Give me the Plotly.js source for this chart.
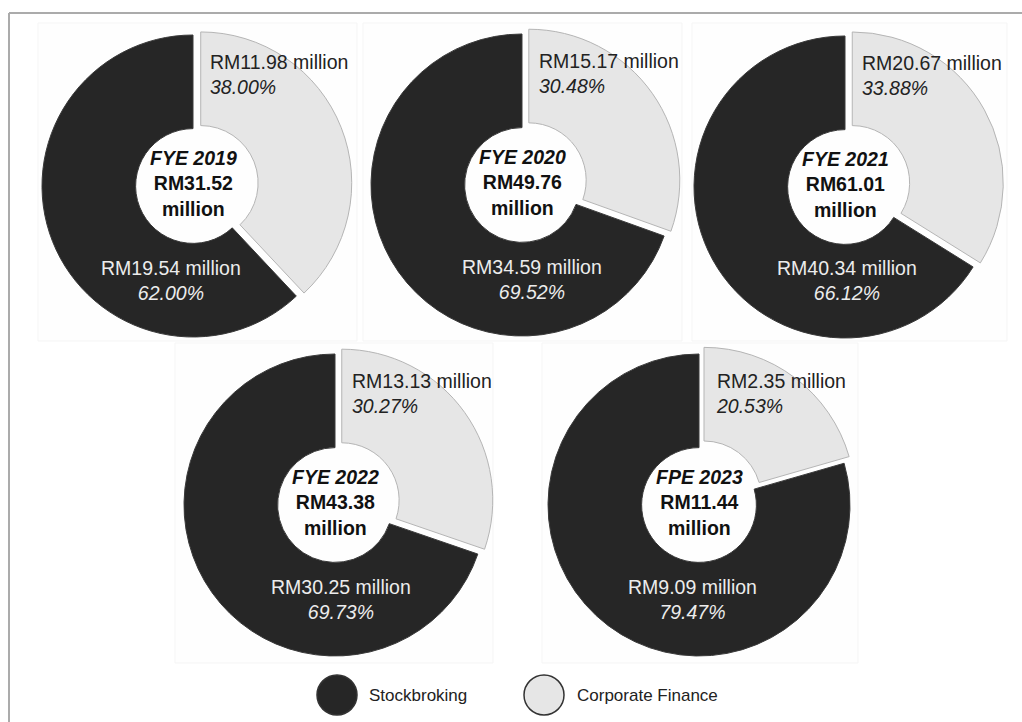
<!DOCTYPE html>
<html>
<head>
<meta charset="utf-8">
<script src="https://cdn.plot.ly/plotly-3.0.1.min.js"></script>
<style>
html,body{margin:0;padding:0;background:#fff;}
#chart{width:1022px;height:722px;}
</style>
</head>
<body>
<div id="chart"></div>
<script>
// ---- data ----
var periods = ['FYE 2019', 'FYE 2020', 'FYE 2021', 'FYE 2022', 'FPE 2023'];
var totals = [31.52, 49.76, 61.01, 43.38, 11.44];
var segments = ['Corporate Finance', 'Stockbroking'];
var corporateFinance = [11.98, 15.17, 20.67, 13.13, 2.35];
var stockbroking = [19.54, 34.59, 40.34, 30.25, 9.09];
var corporatePct = ['38.00', '30.48', '33.88', '30.27', '20.53'];
var stockPct = ['62.00', '69.52', '66.12', '69.73', '79.47'];

// ---- layout (pixels) ----
var W = 1022, H = 722;
var centers = [[193, 186], [522, 185], [845, 187], [335, 505], [699, 505]];
var R = 151, PULL = 0.055, HOLE = 0.38;
var darkLabelDx = [-22, 10, 2, 6, -7];
var panels = [[38, 23, 357, 341], [363, 23, 682, 341], [692, 23, 1007, 341], [175, 343, 493, 663], [542, 343, 858, 663]];
var DARK = '#262626', LIGHT = '#e6e6e6';
var FONT = 'Arial, "Liberation Sans", sans-serif';

function px(x) { return x / W; }
function py(y) { return 1 - y / H; }

var traces = [], annotations = [], shapes = [];

// faint background panels and border
panels.forEach(function (p) {
  shapes.push({type: 'rect', xref: 'paper', yref: 'paper', x0: px(p[0]), x1: px(p[2]), y0: py(p[3]), y1: py(p[1]),
    fillcolor: '#fefefe', line: {color: '#f5f5f5', width: 1}, layer: 'below'});
});
shapes.push({type: 'line', xref: 'paper', yref: 'paper', x0: px(9), x1: px(1022), y0: py(13), y1: py(13), line: {color: '#ababab', width: 2}});
shapes.push({type: 'line', xref: 'paper', yref: 'paper', x0: px(9), x1: px(9), y0: py(13), y1: py(722), line: {color: '#ababab', width: 2}});

var half = R * (1 + PULL);
periods.forEach(function (name, i) {
  var cx = centers[i][0], cy = centers[i][1];
  traces.push({
    type: 'pie',
    labels: segments,
    values: [corporateFinance[i], stockbroking[i]],
    sort: false,
    direction: 'clockwise',
    rotation: 0,
    hole: HOLE,
    pull: [PULL, 0],
    textinfo: 'none',
    hoverinfo: 'none',
    showlegend: false,
    marker: {colors: [LIGHT, DARK], line: {color: ['#b5b5b5', '#3a3a3a'], width: 1}},
    domain: {x: [px(cx - half), px(cx + half)], y: [py(cy + half), py(cy - half)]}
  });
  // centre text
  annotations.push({xref: 'paper', yref: 'paper', x: px(cx), y: py(cy - 3), xanchor: 'center', yanchor: 'middle', showarrow: false,
    text: '<b><i>' + name + '</i></b><br><b>RM' + totals[i].toFixed(2) + '</b><br><b>million</b>',
    font: {family: FONT, size: 19.5, color: '#111'}, align: 'center'});
  // corporate finance label
  annotations.push({xref: 'paper', yref: 'paper', x: px(cx + 15), y: py(cy - 112), xanchor: 'left', yanchor: 'middle', showarrow: false,
    text: 'RM' + corporateFinance[i].toFixed(2) + ' million<br><i>' + corporatePct[i] + '%</i>',
    font: {family: FONT, size: 19.5, color: '#222'}, align: 'left'});
  // stockbroking label
  annotations.push({xref: 'paper', yref: 'paper', x: px(cx + darkLabelDx[i]), y: py(cy + 94), xanchor: 'center', yanchor: 'middle', showarrow: false,
    text: 'RM' + stockbroking[i].toFixed(2) + ' million<br><i>' + stockPct[i] + '%</i>',
    font: {family: FONT, size: 19.5, color: '#ececec'}, align: 'center'});
});

// legend
var legend = [[segments[1], DARK, '#333', 337, 367], [segments[0], LIGHT, '#333', 544, 575]];
legend.forEach(function (l) {
  var r = 20, cy = 695;
  shapes.push({type: 'circle', xref: 'paper', yref: 'paper', x0: px(l[3] - r), x1: px(l[3] + r), y0: py(cy + r), y1: py(cy - r),
    fillcolor: l[1], line: {color: l[2], width: 1.5}});
  annotations.push({xref: 'paper', yref: 'paper', x: px(l[4]), y: py(cy), xanchor: 'left', yanchor: 'middle', showarrow: false,
    text: l[0], font: {family: FONT, size: 17, color: '#222'}});
});

var layout = {
  width: W, height: H,
  margin: {l: 0, r: 0, t: 0, b: 0},
  paper_bgcolor: '#ffffff',
  showlegend: false,
  shapes: shapes,
  annotations: annotations
};
Plotly.newPlot('chart', traces, layout, {displayModeBar: false, staticPlot: true});
</script>
</body>
</html>
